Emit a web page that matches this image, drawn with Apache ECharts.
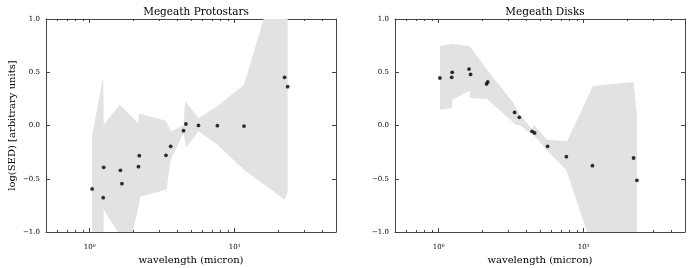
<!DOCTYPE html>
<html><head><meta charset="utf-8">
<script src="https://cdn.jsdelivr.net/npm/echarts@6/dist/echarts.min.js"></script>
<style>html,body{margin:0;padding:0;background:#fff}#c{width:692px;height:268px}</style>
</head><body><div id="c"></div>
<script>
// ---- data ----
const panelTitles = ['Megeath Protostars', 'Megeath Disks'];
const xName = 'wavelength (micron)';
const yName = 'log(SED) [arbitrary units]';

const protoX = [1.04, 1.25, 1.24, 1.63, 1.67, 2.20, 2.17, 3.36, 3.62, 4.44, 4.61, 5.63, 7.60, 11.6, 22.1, 23.2];
const protoY = [-0.596, -0.393, -0.678, -0.421, -0.546, -0.283, -0.387, -0.28, -0.196, -0.049, 0.014, 0.001, -0.002, -0.005, 0.452, 0.365];

const diskX = [1.02, 1.24, 1.23, 1.62, 1.66, 2.18, 2.14, 3.34, 3.60, 4.41, 4.59, 5.64, 7.60, 11.5, 22.1, 23.3];
const diskY = [0.446, 0.499, 0.452, 0.53, 0.48, 0.409, 0.39, 0.123, 0.077, -0.055, -0.07, -0.196, -0.293, -0.377, -0.305, -0.515];

// shaded envelope: upper edge and lower edge, each left to right
const protoUpper = [[1.04,-1.5],[1.04,-0.095],[1.24,0.455],[1.25,0.008],[1.61,0.196],[2.15,0.023],[2.20,0.11],[3.36,0.045],[3.63,-0.055],[4.44,0.0],[4.56,0.227],[5.63,0.07],[7.60,0.18],[11.6,0.383],[22.1,1.66],[23.2,1.7],[23.2,-0.624]];
const protoLower = [[1.24,-1.5],[1.25,-0.79],[1.86,-1.16],[2.18,-0.756],[2.23,-0.67],[3.40,-0.60],[3.60,-0.33],[4.44,-0.07],[4.61,-0.211],[5.63,-0.055],[7.60,-0.18],[11.6,-0.415],[22.1,-0.697]];

const diskUpper = [[1.02,0.75],[1.24,0.765],[1.64,0.743],[2.16,0.524],[3.29,0.21],[3.56,0.118],[4.41,-0.033],[4.52,0.008],[5.59,-0.133],[7.68,-0.149],[11.6,0.371],[22.1,0.408],[23.3,0.095],[23.3,-1.5]];
const diskLower = [[1.02,0.149],[1.24,0.164],[1.24,0.242],[1.64,0.327],[1.65,0.258],[2.16,0.249],[3.38,0.01],[3.66,0.0],[4.41,-0.086],[4.59,-0.102],[5.59,-0.233],[7.60,-0.421],[11.6,-1.17],[22.1,-1.5]];

const xMajor = [1, 10];
const xTickLabels = ['10\u2070', '10\u00b9'];
const xMinor = [0.6,0.7,0.8,0.9,2,3,4,5,6,7,8,9,20,30,40];
const yTicks = [-1, -0.5, 0, 0.5, 1];

// ---- chart ----
const FONT = 'DejaVu Serif';
const AX = '#444';
const chart = echarts.init(document.getElementById('c'), null, {renderer: 'canvas'});

const grids = [
  {left: 46, top: 19, width: 290, height: 213, containLabel: false, outerBoundsMode: 'none'},
  {left: 395, top: 19, width: 290, height: 213, containLabel: false, outerBoundsMode: 'none'}
];

function xLabelFmt(v) {
  let best = 0, bd = Infinity;
  xMajor.forEach((m, i) => { const d = Math.abs(Math.log10(v) - Math.log10(m)); if (d < bd) { bd = d; best = i; } });
  return xTickLabels[best];
}

const xAxes = [], yAxes = [], series = [];
[0, 1].forEach(p => {
  const base = {gridIndex: p, type: 'log', logBase: 10, min: 0.5, max: 50,
    splitLine: {show: false}, minorTick: {show: false}, minorSplitLine: {show: false}};
  const line = {show: true, onZero: false, lineStyle: {color: AX, width: 1}};
  const noLine = {show: false, onZero: false};
  xAxes.push(Object.assign({}, base, {position: 'bottom', axisLine: line,
    axisTick: {show: true, inside: true, length: 4, customValues: xMajor, lineStyle: {color: AX}},
    axisLabel: {show: true, customValues: xMajor, formatter: xLabelFmt, margin: 12,
      fontFamily: FONT, fontSize: 7, color: '#000'},
    name: xName, nameLocation: 'middle', nameGap: 17,
    nameTextStyle: {fontFamily: FONT, fontSize: 10, color: '#000'}}));
  xAxes.push(Object.assign({}, base, {position: 'bottom', axisLine: noLine,
    axisTick: {show: true, inside: true, length: 2, customValues: xMinor, lineStyle: {color: AX}},
    axisLabel: {show: false}}));
  xAxes.push(Object.assign({}, base, {position: 'top', axisLine: line,
    axisTick: {show: true, inside: true, length: 4, customValues: xMajor, lineStyle: {color: AX}},
    axisLabel: {show: false}}));
  xAxes.push(Object.assign({}, base, {position: 'top', axisLine: noLine,
    axisTick: {show: true, inside: true, length: 2, customValues: xMinor, lineStyle: {color: AX}},
    axisLabel: {show: false}}));

  const ybase = {gridIndex: p, type: 'value', min: -1, max: 1, interval: 0.5, splitLine: {show: false}};
  yAxes.push(Object.assign({}, ybase, {position: 'left', axisLine: line,
    axisTick: {show: true, inside: true, length: 4, lineStyle: {color: AX}},
    axisLabel: {show: true, margin: 6, fontFamily: FONT, fontSize: 7, color: '#000',
      formatter: v => (v < 0 ? '\u2212' : '') + Math.abs(v).toFixed(1)},
    name: p === 0 ? yName : '', nameLocation: 'middle', nameGap: 29,
    nameTextStyle: {fontFamily: FONT, fontSize: 10, color: '#000'}}));
  yAxes.push(Object.assign({}, ybase, {position: 'right', axisLine: line,
    axisTick: {show: true, inside: true, length: 4, lineStyle: {color: AX}},
    axisLabel: {show: false}}));
});

function bandSeries(p, upper, lower) {
  const poly = upper.concat(lower.slice().reverse());
  return {
    type: 'custom', coordinateSystem: 'cartesian2d', xAxisIndex: p * 4, yAxisIndex: p * 2,
    data: poly, silent: true, z: 1,
    renderItem: function (params, api) {
      if (params.dataIndex !== 0) return null;
      const cs = params.coordSys;
      const pts = poly.map(pt => api.coord(pt));
      return {type: 'polygon', shape: {points: pts}, style: {fill: '#e2e2e2'},
        clipPath: {type: 'rect', shape: {x: cs.x, y: cs.y, width: cs.width, height: cs.height}}};
    }
  };
}
function pointSeries(p, xs, ys) {
  return {type: 'scatter', xAxisIndex: p * 4, yAxisIndex: p * 2, data: xs.map((x, i) => [x, ys[i]]),
    symbol: 'circle', symbolSize: 3.8, itemStyle: {color: '#000'}, z: 5, silent: true};
}
series.push(bandSeries(0, protoUpper, protoLower));
series.push(pointSeries(0, protoX, protoY));
series.push(bandSeries(1, diskUpper, diskLower));
series.push(pointSeries(1, diskX, diskY));

chart.setOption({
  animation: false,
  backgroundColor: '#fff',
  title: [
    {text: panelTitles[0], left: 191, top: 2, textAlign: 'center',
      textStyle: {fontFamily: FONT, fontSize: 10.5, fontWeight: 'normal', color: '#000'}},
    {text: panelTitles[1], left: 540, top: 2, textAlign: 'center',
      textStyle: {fontFamily: FONT, fontSize: 10.5, fontWeight: 'normal', color: '#000'}}
  ],
  grid: grids,
  xAxis: xAxes,
  yAxis: yAxes,
  series: series
});
</script>
</body></html>
